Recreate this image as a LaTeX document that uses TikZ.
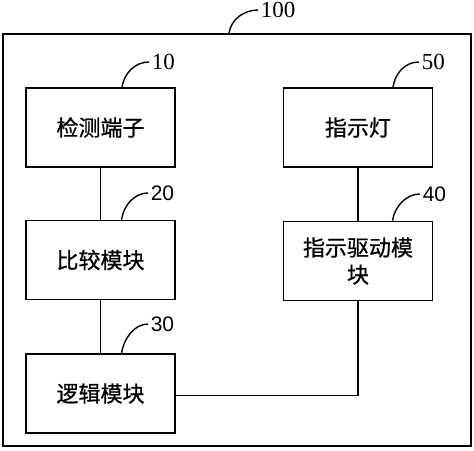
\documentclass[tikz,border=0pt]{standalone}
\usepackage{fontspec}
\setmainfont{Liberation Serif}
\setsansfont{Liberation Sans}
\newfontfamily\cjk[FakeBold=0.8]{Noto Sans CJK SC}
\usetikzlibrary{positioning}

\begin{document}
\begin{tikzpicture}[x=1pt, y=-1pt, line width=1.5pt,
  block/.style={draw, minimum width=149pt, minimum height=79pt, inner sep=0pt,
    font=\cjk\fontsize{22}{27}\selectfont, align=center},
  tag/.style={anchor=west, inner sep=2pt, font=\fontsize{23}{24}\selectfont},
  sanstag/.style={tag, font=\sffamily\fontsize{21}{24}\selectfont},
  lead/.style={line width=1.4pt}]
  \useasboundingbox (0,0) rectangle (474,450);
  % outer housing
  \node[draw, minimum width=468pt, minimum height=412pt, inner sep=0pt] (sys) at (237,240) {};
  % left column
  \node[block] (detect) at (100.5,127.5) {检测端子};
  \node[block, below=52pt of detect] (compare) {比较模块};
  \node[block, below=53pt of compare] (logic) {逻辑模块};
  % right column
  \node[block, right=107pt of detect] (lamp) {指示灯};
  \node[block, below=53pt of lamp] (drive) {指示驱动模\\块};
  % links
  \draw (detect) -- (compare);
  \draw (compare) -- (logic);
  \draw (lamp) -- (drive);
  \draw ([yshift=-2pt]logic.east) -| (drive.south);
  % reference numerals
  \node[tag] (n100) at (258,10) {100};
  \node[tag] (n10) at (149,62) {10};
  \node[tag] (n50) at (419,62) {50};
  \node[sanstag] (n20) at (148,193) {20};
  \node[sanstag] (n40) at (420,194) {40};
  \node[sanstag] (n30) at (148,324) {30};
  \draw[lead] ([xshift=-8pt]sys.north) .. controls +(2,-14) and +(-14,0) .. (n100.west);
  \draw[lead] ([xshift=21.5pt]detect.north) .. controls +(2,-14) and +(-14,0) .. (n10.west);
  \draw[lead] ([xshift=35pt]lamp.north) .. controls +(2,-14) and +(-14,0) .. (n50.west);
  \draw[lead] ([xshift=21pt]compare.north) .. controls +(2,-14) and +(-14,0) .. (n20.west);
  \draw[lead] ([xshift=34.5pt]drive.north) .. controls +(2,-14) and +(-14,0) .. (n40.west);
  \draw[lead] ([xshift=21pt]logic.north) .. controls +(2,-14) and +(-14,0) .. (n30.west);
\end{tikzpicture}
\end{document}
